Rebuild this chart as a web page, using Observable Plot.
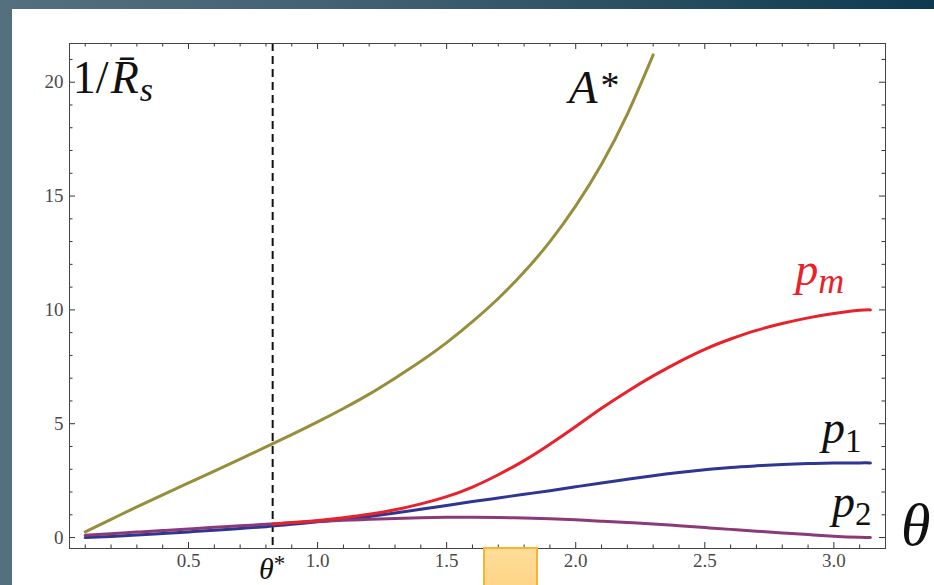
<!DOCTYPE html>
<html><head><meta charset="utf-8">
<script src="https://cdn.jsdelivr.net/npm/d3@7"></script>
<script src="https://cdn.jsdelivr.net/npm/@observablehq/plot@0.6"></script>
<style>
html,body{margin:0;padding:0;}
body{width:934px;height:585px;overflow:hidden;position:relative;background:linear-gradient(to right,#54707f 0%,#3d5d6f 45%,#0e3a50 100%);}
#panel{position:absolute;left:12px;top:9px;width:922px;height:576px;background:#fff;}
#panel svg{display:block;overflow:visible;}
#box{position:absolute;left:483px;top:547px;width:51px;height:40px;background:linear-gradient(#fedd97,#fdd487);border:2px solid #f6b334;}
</style></head><body>
<div id="panel"></div><div id="box"></div>
<script>
// ---- data ----
const theta = [0.1,0.2,0.3,0.4,0.5,0.6,0.7,0.8,0.9,1.0,1.1,1.2,1.3,1.4,1.5,1.6,1.7,1.8,1.9,2.0,2.1,2.2,2.3,2.4,2.5,2.6,2.7,2.8,2.9,3.0,3.1,3.1416];
const aStar = [0.25,0.8,1.35,1.88,2.4,2.92,3.45,3.98,4.52,5.08,5.67,6.3,7.0,7.74,8.56,9.48,10.5,11.66,13.0,14.57,16.4,18.6,21.2];
const p1 = [0.0,0.05,0.11,0.18,0.25,0.32,0.4,0.48,0.58,0.69,0.8,0.93,1.08,1.24,1.41,1.58,1.74,1.9,2.06,2.23,2.4,2.56,2.72,2.86,2.98,3.08,3.15,3.21,3.25,3.27,3.28,3.28];
const p2 = [0.1,0.17,0.24,0.31,0.38,0.45,0.52,0.58,0.65,0.71,0.76,0.8,0.84,0.87,0.89,0.89,0.88,0.86,0.83,0.78,0.72,0.66,0.6,0.52,0.44,0.36,0.28,0.2,0.13,0.06,0.01,0.0];
const thetaM = [0.826,0.9,1.0,1.1,1.2,1.3,1.4,1.5,1.6,1.7,1.8,1.9,2.0,2.1,2.2,2.3,2.4,2.5,2.6,2.7,2.8,2.9,3.0,3.1,3.1416];
const pm = [0.6,0.66,0.75,0.87,1.02,1.22,1.48,1.8,2.22,2.76,3.38,4.1,4.88,5.68,6.42,7.1,7.72,8.27,8.72,9.1,9.4,9.65,9.84,9.98,10.0];
const thetaStar = 0.826;
const xMajor = [0.5,1.0,1.5,2.0,2.5,3.0];
const yMajor = [0,5,10,15,20];
const xMinor = d3.range(1,32).map(i=>i/10).filter(v=>!xMajor.some(m=>Math.abs(m-v)<1e-9));
const yMinor = d3.range(1,22).filter(v=>!yMajor.includes(v));

// ---- styles ----
const colA = "#978e3c", colM = "#e8222b", col1 = "#2e3592", col2 = "#8a3a78";
const serif = "'Liberation Serif', 'Times New Roman', serif";
const xDomain = [0.039, 3.2], yDomain = [-0.48, 21.7];
const W = 922, H = 576, mL = 57, mR = 49, mT = 34, mB = 37;
const pxX = (xDomain[1]-xDomain[0])/(W-mL-mR), pxY = (yDomain[1]-yDomain[0])/(H-mT-mB);
const majLen = 6, minLen = 3.5;

const rows = (xs, ys) => ys.map((v,i)=>({theta: xs[i], value: v}));

const tickRules = [
  Plot.ruleX(xMajor,{x:d=>d,y1:yDomain[0],y2:yDomain[0]+majLen*pxY,stroke:"#333"}),
  Plot.ruleX(xMinor,{x:d=>d,y1:yDomain[0],y2:yDomain[0]+minLen*pxY,stroke:"#333"}),
  Plot.ruleX(xMajor,{x:d=>d,y1:yDomain[1],y2:yDomain[1]-majLen*pxY,stroke:"#333"}),
  Plot.ruleX(xMinor,{x:d=>d,y1:yDomain[1],y2:yDomain[1]-minLen*pxY,stroke:"#333"}),
  Plot.ruleY(yMajor,{y:d=>d,x1:xDomain[0],x2:xDomain[0]+majLen*pxX,stroke:"#333"}),
  Plot.ruleY(yMinor,{y:d=>d,x1:xDomain[0],x2:xDomain[0]+minLen*pxX,stroke:"#333"}),
  Plot.ruleY(yMajor,{y:d=>d,x1:xDomain[1],x2:xDomain[1]-majLen*pxX,stroke:"#333"}),
  Plot.ruleY(yMinor,{y:d=>d,x1:xDomain[1],x2:xDomain[1]-minLen*pxX,stroke:"#333"})
];

const plot = Plot.plot({
  width: W, height: H,
  marginLeft: mL, marginRight: mR, marginTop: mT, marginBottom: mB,
  style: {fontFamily: serif, fontSize: "19px", color: "#4a4a4a", background: "transparent", overflow: "visible"},
  x: {domain: xDomain},
  y: {domain: yDomain},
  marks: [
    Plot.axisX({ticks: xMajor, tickFormat: d3.format(".1f"), tickSize: 0, tickPadding: 5, label: null}),
    Plot.axisY({ticks: yMajor, tickSize: 0, tickPadding: 6, label: null}),
    ...tickRules,
    Plot.ruleX([thetaStar], {x: d=>d, stroke: "#111", strokeWidth: 2, strokeDasharray: "8,5"}),
    Plot.line(rows(theta, aStar), {x:"theta", y:"value", stroke: colA, strokeWidth: 3, curve: "natural"}),
    Plot.line(rows(theta, p1), {x:"theta", y:"value", stroke: col1, strokeWidth: 3, curve: "natural"}),
    Plot.line(rows(theta, p2), {x:"theta", y:"value", stroke: col2, strokeWidth: 3, curve: "natural"}),
    Plot.line(rows(thetaM, pm), {x:"theta", y:"value", stroke: colM, strokeWidth: 3, curve: "natural"}),
    Plot.frame({stroke: "#444", strokeWidth: 1})
  ]
});
document.getElementById("panel").appendChild(plot);

// ---- math-style annotations (real text, positioned through the scales) ----
const sx = plot.scale("x"), sy = plot.scale("y");
const svg = d3.select(plot);
function label(at, fill, parts) {
  const t = svg.append("text")
    .attr("x", sx.apply(at[0])).attr("y", sy.apply(at[1]))
    .attr("text-anchor", "start")
    .style("font-family", serif)
    .attr("fill", fill);
  for (const p of parts) {
    const s = t.append("tspan").attr("font-size", p.size).text(p.text);
    if (p.italic) s.attr("font-style", "italic");
    if (p.dy) s.attr("dy", p.dy);
    if (p.dx) s.attr("dx", p.dx);
  }
}
label([0.054, 19.5], "#111", [
  {text: "1/", size: 46},
  {text: "R\u0304", size: 46, italic: true, dx: 2},
  {text: "s", size: 34, italic: true, dy: 8, dx: 1}
]);
label([1.975, 19.06], "#111", [
  {text: "A", size: 47, italic: true},
  {text: "*", size: 38, dx: 3, dy: -5}
]);
label([2.852, 11.07], colM, [
  {text: "p", size: 46, italic: true},
  {text: "m", size: 36, italic: true, dy: 8}
]);
label([2.956, 4.13], "#111", [
  {text: "p", size: 46, italic: true},
  {text: "1", size: 33, dy: 9}
]);
label([2.995, 0.88], "#111", [
  {text: "p", size: 46, italic: true},
  {text: "2", size: 33, dy: 8}
]);
label([3.262, -0.35], "#111", [
  {text: "θ", size: 60, italic: true}
]);
label([0.775, -1.85], "#111", [
  {text: "θ", size: 30, italic: true},
  {text: "*", size: 23, dy: -8}
]);
</script>
</body></html>
